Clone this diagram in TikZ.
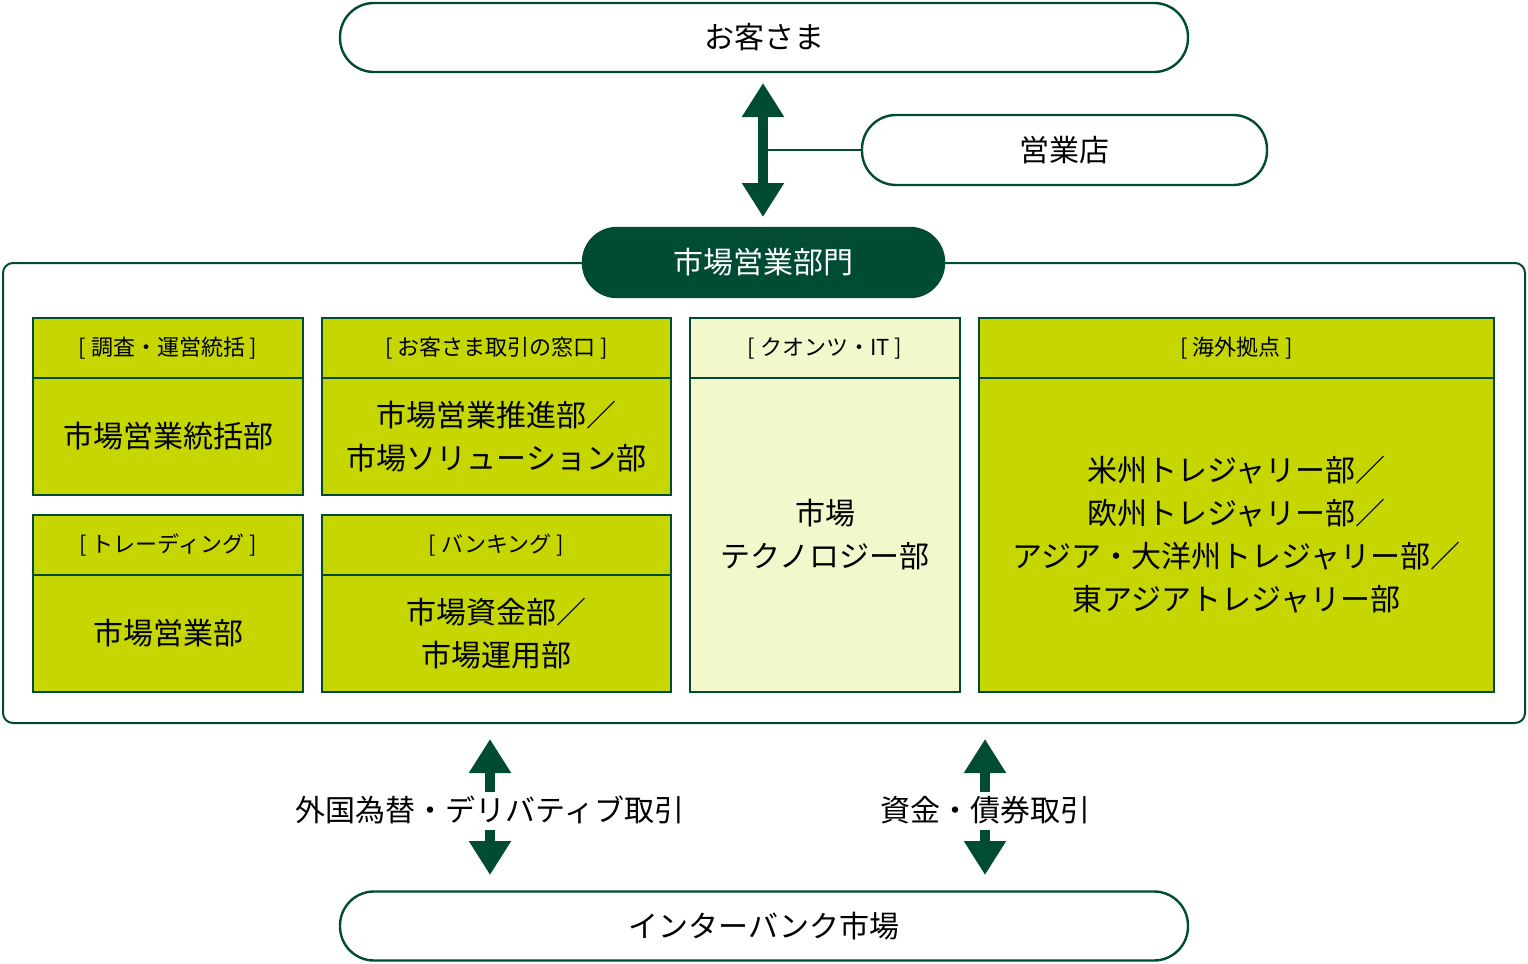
\documentclass[tikz,border=0pt]{standalone}
\usepackage{fontspec}
\setmainfont{Noto Sans CJK JP}
\usetikzlibrary{arrows.meta}
\definecolor{dgreen}{HTML}{004B33}
\definecolor{lime}{HTML}{C5D600}
\definecolor{pale}{HTML}{F2F7CC}
\tikzset{
  pill/.style={draw=dgreen,line width=1.2pt,rounded corners=17pt,fill=white,inner sep=0pt,font=\fontsize{15}{18}\selectfont,text=black},
  hdr/.style={draw=dgreen,line width=1pt,fill=lime,inner sep=0pt,minimum height=30pt,font=\fontsize{11}{13}\selectfont},
  body/.style={draw=dgreen,line width=1pt,fill=lime,inner sep=0pt,align=center,font=\fontsize{15}{21.5}\selectfont},
  bigarrow/.style={dgreen,line width=5pt,-{Triangle[width=20pt,length=17pt]}},
}
\begin{document}
\begin{tikzpicture}[x=0.5pt,y=-0.5pt]
  \useasboundingbox (0,0) rectangle (1528,964);
  % outer frame
  \draw[dgreen,line width=1pt,rounded corners=5pt,fill=white] (3,263) rectangle (1525,723);
  % top
  \node[pill,minimum width=424pt,minimum height=34.5pt] (kyaku) at (764,37.5) {お客さま};
  \node[pill,minimum width=202.5pt,minimum height=35pt] (eigyo) at (1064.5,150) {営業店};
  \node[pill,fill=dgreen,text=white,minimum width=180.5pt,minimum height=34.5pt] (bumon) at (763.5,262.5) {市場営業部門};
  \coordinate (ta) at (763,83);
  \coordinate (tb) at (763,217);
  \draw[bigarrow,{Triangle[width=20pt,length=17pt]}-{Triangle[width=20pt,length=17pt]}] (ta) -- (tb);
  \draw[dgreen,line width=0.8pt] (763,150) -- (eigyo.west);
  % column 1
  \node[hdr,minimum width=135pt] (h1) at (168,348) {[\ 調査・運営統括\ ]};
  \node[body,minimum width=135pt,minimum height=58.5pt] (b1) at (168,436.5) {市場営業統括部};
  \node[hdr,minimum width=135pt] (h2) at (168,545) {[\ トレーディング\ ]};
  \node[body,minimum width=135pt,minimum height=58.5pt] (b2) at (168,633.5) {市場営業部};
  % column 2
  \node[hdr,minimum width=174.5pt] (h3) at (496.5,348) {[\ お客さま取引の窓口\ ]};
  \node[body,minimum width=174.5pt,minimum height=58.5pt] (b3) at (496.5,436.5) {市場営業推進部／\\市場ソリューション部};
  \node[hdr,minimum width=174.5pt] (h4) at (496.5,545) {[\ バンキング\ ]};
  \node[body,minimum width=174.5pt,minimum height=58.5pt] (b4) at (496.5,633.5) {市場資金部／\\市場運用部};
  % column 3
  \node[hdr,fill=pale,minimum width=135pt] (h5) at (825,348) {[\ クオンツ・IT\ ]};
  \node[body,fill=pale,minimum width=135pt,minimum height=157pt] (b5) at (825,535) {市場\\テクノロジー部};
  % column 4
  \node[hdr,minimum width=257.5pt] (h6) at (1236.5,348) {[\ 海外拠点\ ]};
  \node[body,minimum width=257.5pt,minimum height=157pt] (b6) at (1236.5,535) {米州トレジャリー部／\\欧州トレジャリー部／\\アジア・大洋州トレジャリー部／\\東アジアトレジャリー部};
  % bottom
  \node[pill,minimum width=424pt,minimum height=34.5pt] (inter) at (764,926) {インターバンク市場};
  \node[font=\fontsize{15}{18}\selectfont] (fx) at (490,810) {外国為替・デリバティブ取引};
  \node[font=\fontsize{15}{18}\selectfont] (fund) at (985,810) {資金・債券取引};
  \draw[bigarrow] (490,792) -- (490,739);
  \draw[bigarrow] (490,830) -- (490,875);
  \draw[bigarrow] (985,792) -- (985,739);
  \draw[bigarrow] (985,830) -- (985,875);
\end{tikzpicture}
\end{document}
